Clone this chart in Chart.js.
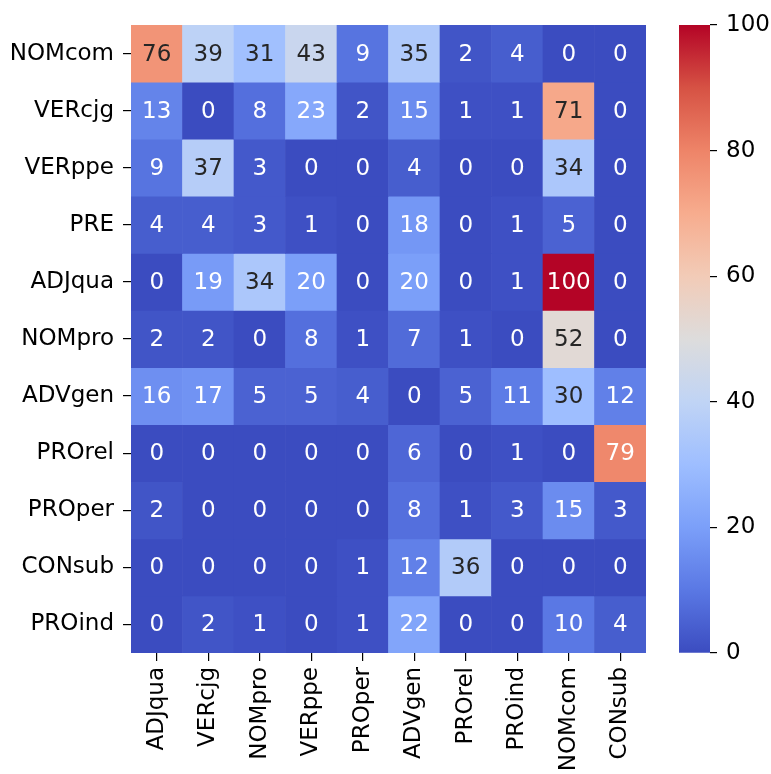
<!DOCTYPE html>
<html>
<head>
<meta charset="utf-8">
<script src="https://cdn.jsdelivr.net/npm/chart.js@4"></script>
<style>
  body { margin: 0; background: #fff; }
  #wrap { position: relative; width: 771px; height: 774px; }
  #heat { position: absolute; left: 0; top: 0; }
  #bar { position: absolute; left: 679px; top: 0; }
</style>
</head>
<body>
<div id="wrap">
  <canvas id="heat" width="771" height="774"></canvas>
  <canvas id="bar" width="92" height="774"></canvas>
</div>
<script>
const rowLabels = ['NOMcom', 'VERcjg', 'VERppe', 'PRE', 'ADJqua', 'NOMpro', 'ADVgen', 'PROrel', 'PROper', 'CONsub', 'PROind'];
const colLabels = ['ADJqua', 'VERcjg', 'NOMpro', 'VERppe', 'PROper', 'ADVgen', 'PROrel', 'PROind', 'NOMcom', 'CONsub'];

const rowNOMcom = [76, 39, 31, 43, 9, 35, 2, 4, 0, 0];
const rowVERcjg = [13, 0, 8, 23, 2, 15, 1, 1, 71, 0];
const rowVERppe = [9, 37, 3, 0, 0, 4, 0, 0, 34, 0];
const rowPRE    = [4, 4, 3, 1, 0, 18, 0, 1, 5, 0];
const rowADJqua = [0, 19, 34, 20, 0, 20, 0, 1, 100, 0];
const rowNOMpro = [2, 2, 0, 8, 1, 7, 1, 0, 52, 0];
const rowADVgen = [16, 17, 5, 5, 4, 0, 5, 11, 30, 12];
const rowPROrel = [0, 0, 0, 0, 0, 6, 0, 1, 0, 79];
const rowPROper = [2, 0, 0, 0, 0, 8, 1, 3, 15, 3];
const rowCONsub = [0, 0, 0, 0, 1, 12, 36, 0, 0, 0];
const rowPROind = [0, 2, 1, 0, 1, 22, 0, 0, 10, 4];
const matrix = [rowNOMcom, rowVERcjg, rowVERppe, rowPRE, rowADJqua, rowNOMpro, rowADVgen, rowPROrel, rowPROper, rowCONsub, rowPROind];

const colorbarTicks = [0, 20, 40, 60, 80, 100];
const vmin = 0, vmax = 100;

// coolwarm, sampled every 0.1
const coolwarm = ['#3b4cc0', '#5a78e4', '#7b9ff9', '#9ebeff', '#c0d4f5', '#dddcdc',
                  '#f2cbb7', '#f7ac8e', '#ee8468', '#d65244', '#b40426'];
const hexToRgb = h => [1, 3, 5].map(i => parseInt(h.slice(i, i + 2), 16));
const cmapRgb = t => {
  t = Math.max(0, Math.min(1, t));
  const p = t * (coolwarm.length - 1);
  const i = Math.min(Math.floor(p), coolwarm.length - 2);
  const f = p - i;
  const a = hexToRgb(coolwarm[i]), b = hexToRgb(coolwarm[i + 1]);
  return a.map((v, k) => Math.round(v + (b[k] - v) * f));
};
const cmap = v => {
  const c = cmapRgb((v - vmin) / (vmax - vmin));
  return `rgb(${c[0]},${c[1]},${c[2]})`;
};
const textColor = v => {
  const lin = cmapRgb((v - vmin) / (vmax - vmin)).map(c => {
    c /= 255;
    return c <= 0.03928 ? c / 12.92 : Math.pow((c + 0.055) / 1.055, 2.4);
  });
  const lum = 0.2126 * lin[0] + 0.7152 * lin[1] + 0.0722 * lin[2];
  return lum > 0.408 ? '#262626' : '#ffffff';
};

const FONT = 'DejaVu Sans';
const FS = 23;
Chart.defaults.font.family = FONT;
Chart.defaults.color = '#000';

const datasets = matrix.map((row, r) => ({
  label: rowLabels[r],
  data: row.map(() => [r, r + 1]),
  values: row,
  backgroundColor: row.map(v => cmap(v)),
  borderWidth: 0,
  barPercentage: 1,
  categoryPercentage: 1,
  grouped: false
}));

const annotate = {
  id: 'annotate',
  afterDatasetsDraw(chart) {
    const ctx = chart.ctx;
    ctx.save();
    ctx.font = `${FS}px "${FONT}"`;
    ctx.textAlign = 'center';
    ctx.textBaseline = 'middle';
    chart.data.datasets.forEach((ds, r) => {
      chart.getDatasetMeta(r).data.forEach((bar, c) => {
        const v = ds.values[c];
        ctx.fillStyle = textColor(v);
        const yMid = (bar.y + bar.base) / 2;
        ctx.fillText(String(v), bar.x, yMid + 1);
      });
    });
    ctx.restore();
  }
};

new Chart(document.getElementById('heat'), {
  type: 'bar',
  data: { labels: colLabels, datasets },
  options: {
    responsive: false,
    animation: false,
    layout: { padding: { top: 25, right: 125, left: 0, bottom: 0 } },
    plugins: { legend: { display: false }, tooltip: { enabled: false } },
    scales: {
      x: {
        type: 'category',
        grid: { offset: false, drawOnChartArea: false, drawTicks: true, tickLength: 8, color: '#000', lineWidth: 1.2 },
        border: { display: false },
        ticks: { font: { size: FS }, color: '#000', minRotation: 90, maxRotation: 90, padding: 6, autoSkip: false },
        afterFit(scale) { scale.height = 121; }
      },
      y: {
        type: 'linear',
        reverse: true,
        min: 0,
        max: rowLabels.length,
        afterBuildTicks(scale) { scale.ticks = rowLabels.map((_, i) => ({ value: i + 0.5 })); },
        grid: { drawOnChartArea: false, drawTicks: true, tickLength: 8, color: '#000', lineWidth: 1.2 },
        border: { display: false },
        ticks: {
          font: { size: FS }, color: '#000', padding: 9, autoSkip: false,
          callback: (val) => rowLabels[Math.floor(val)]
        },
        afterFit(scale) { scale.width = 131; }
      }
    }
  },
  plugins: [annotate]
});

// colorbar
new Chart(document.getElementById('bar'), {
  type: 'bar',
  data: {
    labels: [''],
    datasets: [{
      data: [[vmin, vmax]],
      borderWidth: 0,
      barPercentage: 1,
      categoryPercentage: 1,
      backgroundColor(ctx) {
        const area = ctx.chart.chartArea;
        if (!area) return coolwarm[0];
        const g = ctx.chart.ctx.createLinearGradient(0, area.bottom, 0, area.top);
        coolwarm.forEach((c, i) => g.addColorStop(i / (coolwarm.length - 1), c));
        return g;
      }
    }]
  },
  options: {
    responsive: false,
    animation: false,
    layout: { padding: { top: 25, bottom: 121, left: 0, right: 0 } },
    plugins: { legend: { display: false }, tooltip: { enabled: false } },
    scales: {
      x: { display: false },
      y: {
        position: 'right',
        min: vmin,
        max: vmax,
        afterBuildTicks(scale) { scale.ticks = colorbarTicks.map(v => ({ value: v })); },
        grid: { drawOnChartArea: false, drawTicks: true, tickLength: 7, color: '#000', lineWidth: 1.2 },
        border: { display: false },
        ticks: { font: { size: FS }, color: '#000', padding: 9 },
        afterFit(scale) { scale.width = 61; }
      }
    }
  }
});
</script>
</body>
</html>
